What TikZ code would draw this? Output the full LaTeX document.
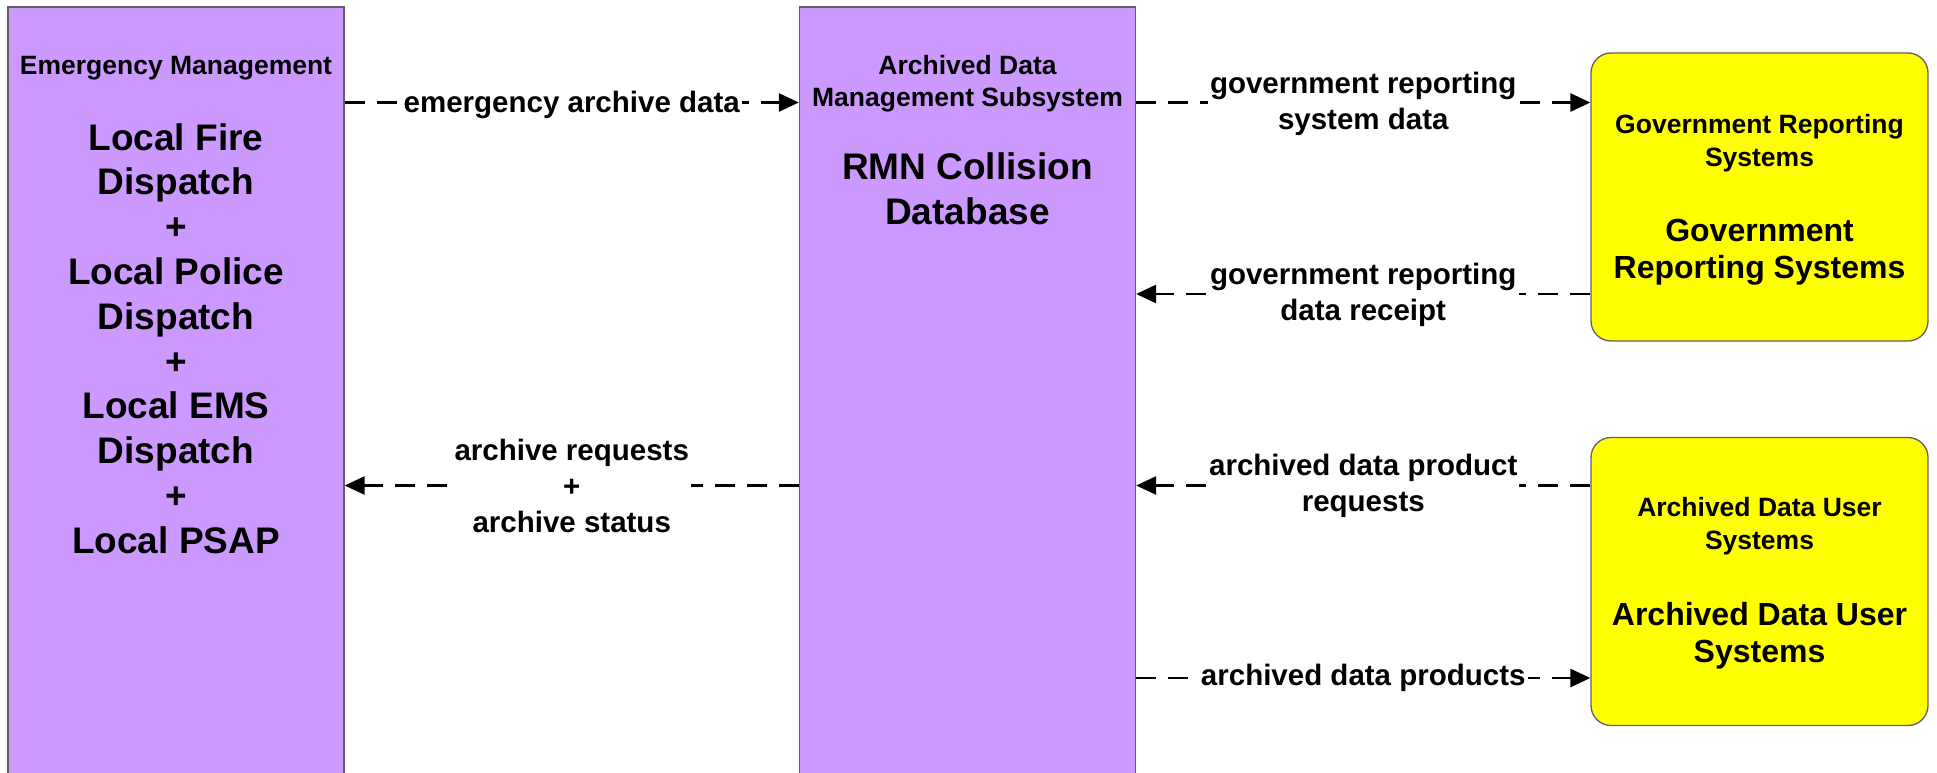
\documentclass[tikz,border=0pt]{standalone}
\usepackage{fontspec}
\setmainfont{Liberation Sans}
\usetikzlibrary{arrows.meta}
\definecolor{purp}{HTML}{CC99FF}
\definecolor{yel}{HTML}{FFFF00}
\definecolor{bordergray}{HTML}{606060}
\begin{document}
\begin{tikzpicture}[x=1pt,y=-1pt,
  subsys/.style={draw=bordergray, line width=1.3pt, fill=purp, rectangle, inner sep=0pt, minimum width=336pt, minimum height=800pt},
  termbox/.style={draw=bordergray, line width=1.3pt, fill=yel, rectangle, rounded corners=20pt, inner sep=0pt, minimum width=337pt, minimum height=288pt},
  smalltxt/.style={font=\fontsize{26.5}{32.5}\selectfont\bfseries, align=center, inner sep=0pt},
  bigtxt/.style={font=\fontsize{37}{44.8}\selectfont\bfseries, align=center, inner sep=0pt},
  bigtxtr/.style={font=\fontsize{32}{37}\selectfont\bfseries, align=center, inner sep=0pt},
  lbl/.style={font=\fontsize{29.5}{36}\selectfont\bfseries, align=center, fill=white, inner sep=2pt},
  flow/.style={line width=2.7pt, dash pattern=on 20pt off 12pt, -{Triangle[length=20pt,width=18pt]}}
]
\clip (0,0) rectangle (1937,773);
\fill[white] (0,0) rectangle (1937,773);

% boxes
\node[subsys] (em) at (176,407) {};
\node[subsys] (adm) at (967.5,407) {};
\node[termbox] (grs) at (1759.5,197) {};
\node[termbox] (adu) at (1759.5,581.5) {};

% texts
\node[smalltxt] (emt) at (176,68) {Emergency Management};
\node[bigtxt] (emb) at (176,338.5) {Local Fire\\Dispatch\\+\\Local Police\\Dispatch\\+\\Local EMS\\Dispatch\\+\\Local PSAP};
\node[smalltxt] (admt) at (967.5,83.5) {Archived Data\\Management Subsystem};
\node[bigtxt] (admb) at (967.5,189) {RMN Collision\\Database};
\node[smalltxt] (grst) at (1759.5,143) {Government Reporting\\Systems};
\node[bigtxtr] (grsb) at (1759.5,252.5) {Government\\Reporting Systems};
\node[smalltxt] (adut) at (1759.5,526) {Archived Data User\\Systems};
\node[bigtxtr] (adub) at (1759.5,636) {Archived Data User\\Systems};

% rows
\coordinate (r1) at (0,102.5);
\coordinate (r2) at (0,294);
\coordinate (r3) at (0,485.5);
\coordinate (r4) at (0,678);

% connectors
\draw[flow] (em.east |- r1) -- (adm.west |- r1) node[midway,lbl,yshift=-2pt] (l1) {emergency archive data};
\draw[flow] (adm.west |- r3) -- (em.east |- r3) node[midway,lbl] (l5) {archive requests\\+\\archive status};
\draw[flow] (adm.east |- r1) -- (grs.west |- r1) node[midway,lbl,yshift=-1pt] (l2) {government reporting\\system data};
\draw[flow] (grs.west |- r2) -- (adm.east |- r2) node[midway,lbl,yshift=-1pt] (l3) {government reporting\\data receipt};
\draw[flow] (adu.west |- r3) -- (adm.east |- r3) node[midway,lbl] (l4) {archived data product\\requests};
\draw[flow] (adm.east |- r4) -- (adu.west |- r4) node[midway,lbl] (l6) {archived data products};
\end{tikzpicture}
\end{document}
